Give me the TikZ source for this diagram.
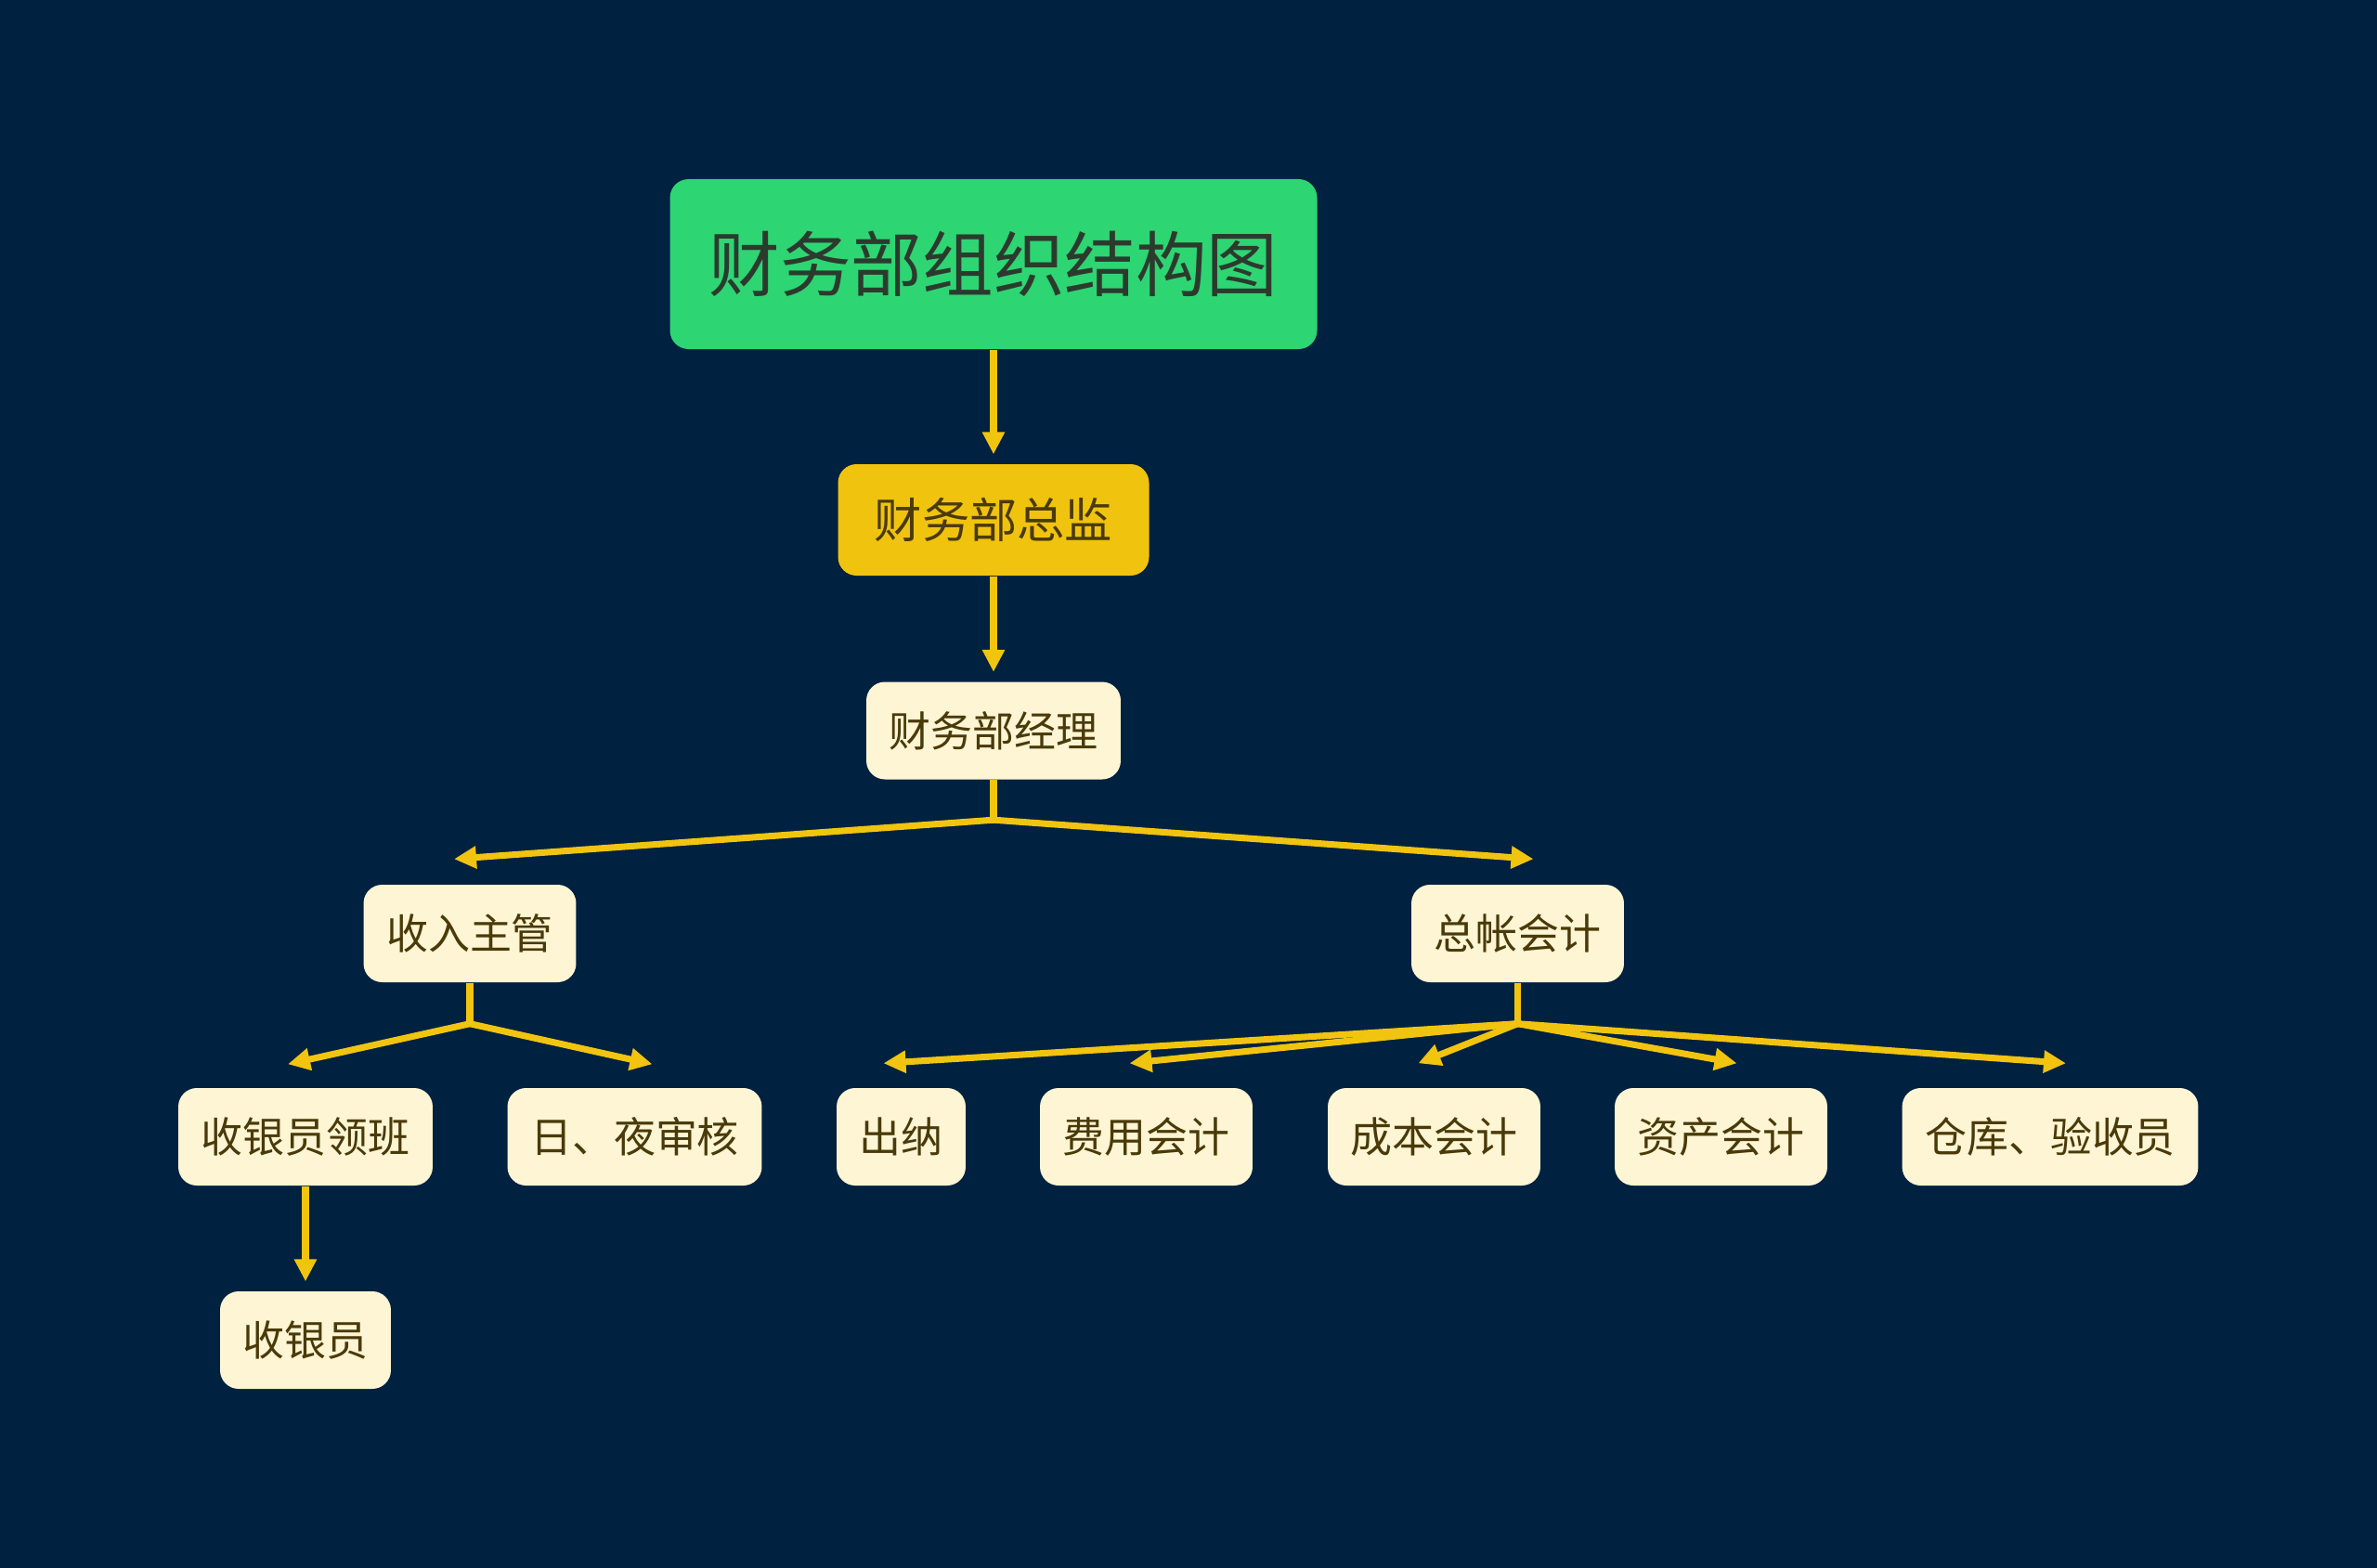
\documentclass[tikz,border=0pt]{standalone}
\usepackage{fontspec}
\newfontfamily\cjk{Noto Sans CJK SC}
\usepackage{xcolor}
\usetikzlibrary{arrows.meta,positioning,calc}
\definecolor{bgnavy}{HTML}{002140}
\definecolor{linkgold}{HTML}{F1C40F}
\definecolor{titlegreen}{HTML}{2ED573}
\definecolor{headgold}{HTML}{F0C30F}
\definecolor{cream}{HTML}{FDF5D3}
\definecolor{inkbrown}{HTML}{4A3A0A}
\definecolor{inkgreen}{HTML}{2C3A2E}
\tikzset{
  titlebox/.style={
    rectangle, rounded corners=0.2cm, fill=titlegreen, text=inkgreen,
    minimum width=6.97cm, minimum height=1.83cm,
    font=\cjk\fontsize{21.8}{26}\selectfont, align=center,
    inner sep=0pt
  },
  headbox/.style={
    rectangle, rounded corners=0.2cm, fill=headgold, text=inkbrown,
    minimum width=3.35cm, minimum height=1.2cm,
    font=\cjk\fontsize{14.6}{18}\selectfont, align=center,
    inner sep=0pt
  },
  staffbox/.style={
    rectangle, rounded corners=0.2cm, fill=cream, text=inkbrown,
    minimum height=1.05cm, inner xsep=0.245cm, inner ysep=0pt,
    font=\cjk\fontsize{12.8}{15}\selectfont, align=center
  },
  linkline/.style={
    line width=2pt, color=linkgold
  },
  linkarrow/.style={
    linkline, -{Triangle[length=0.24cm, width=0.23cm]}
  },
}
\begin{document}
\begin{tikzpicture}
  \fill[bgnavy] (0,0) rectangle (25.6,-16.89);
  \useasboundingbox (0,0) rectangle (25.6,-16.89);

  % Top levels
  \node[titlebox] (title) at (10.70,-2.845) {财务部组织结构图};
  \node[headbox] (zj) at (10.70,-5.60) {财务部总监};
  \node[staffbox] (jl) at (10.70,-7.87) {财务部经理};

  % Second level
  \node[staffbox] (srzg) at (5.06,-10.055) {收入主管};
  \node[staffbox] (zzkj) at (16.345,-10.055) {总帐会计};

  % Third level
  \node[staffbox] (syld) at (3.29,-12.245) {收银员领班};
  \node[staffbox] (rysh) at (6.835,-12.245) {日、夜审核};
  \node[staffbox] (cn) at (9.705,-12.245) {出纳};
  \node[staffbox] (fykj) at (12.345,-12.245) {费用会计};
  \node[staffbox] (cbkj) at (15.445,-12.245) {成本会计};
  \node[staffbox] (zckj) at (18.535,-12.245) {资产会计};
  \node[staffbox] (ckys) at (22.08,-12.245) {仓库、验收员};
  \node[staffbox] (sy) at (3.29,-14.435) {收银员};

  % Straight links
  \draw[linkarrow, shorten >=0.1cm] (title) -- (zj);
  \draw[linkarrow, shorten >=0.1cm] (zj) -- (jl);
  \draw[linkarrow, shorten >=0.1cm] (syld) -- (sy);

  % Forks
  \draw[linkline] (jl.south) -- ++(0,-0.43) coordinate (jlfork);
  \draw[linkline] (srzg.south) -- ++(0,-0.44) coordinate (srfork);
  \draw[linkline] (zzkj.south) -- ++(0,-0.44) coordinate (zzfork);

  \foreach \n/\dx in {srzg/-0.17,zzkj/0.17} {
    \draw[linkarrow] (jlfork) -- ([xshift=\dx cm, yshift=0.27cm]\n.north);
  }
  \foreach \n/\dx in {syld/-0.19,rysh/0.19} {
    \draw[linkarrow] (srfork) -- ([xshift=\dx cm, yshift=0.25cm]\n.north);
  }
  \foreach \n/\dx in {cn/-0.19,fykj/-0.18,cbkj/-0.17,zckj/0.17,ckys/0.17} {
    \draw[linkarrow] (zzfork) -- ([xshift=\dx cm, yshift=0.26cm]\n.north);
  }
\end{tikzpicture}
\end{document}
